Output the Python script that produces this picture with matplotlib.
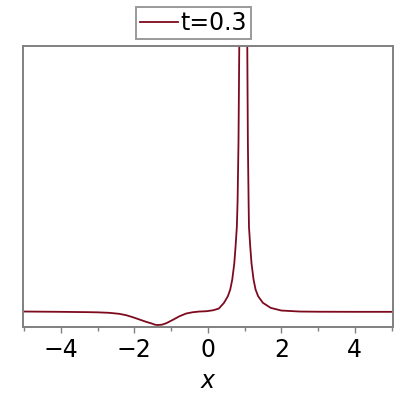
import matplotlib
matplotlib.use('Agg')
import matplotlib.pyplot as plt
from matplotlib.ticker import MultipleLocator

# --- DATA (y in arbitrary units above the baseline) ---

x_vals = [-5.0, -4.0, -3.3, -3.0, -2.68, -2.41, -2.22, -2.04, -1.86, -1.68,
          -1.5, -1.44, -1.37, -1.25, -1.13, -0.95, -0.77, -0.59, -0.41, -0.23,
          -0.04, 0.15, 0.3, 0.44, 0.545, 0.61, 0.665, 0.72, 0.755, 0.79,
          0.81, 0.835, 0.856, 0.87, 0.965, 1.06, 1.074, 1.09, 1.11, 1.12,
          1.155, 1.19, 1.245, 1.30, 1.37, 1.50, 1.71, 2.0, 2.5, 3.0,
          4.0, 5.0]
y_vals = [0.0, -0.3, -0.6, -0.8, -1.3, -2.3, -3.7, -5.7, -8.0, -10.3,
          -12.3, -13.2, -13.5, -13.2, -11.7, -8.3, -4.7, -2.0, -0.7, 0.0,
          0.3, 1.3, 3.0, 8.7, 15.3, 22.0, 32.0, 48.0, 65.0, 85.0,
          110.0, 170.0, 266.0, 330.0, 900.0, 330.0, 266.0, 170.0, 110.0, 85.0,
          65.0, 48.0, 32.0, 22.0, 15.3, 8.7, 3.7, 1.0, 0.0, -0.2,
          -0.3, -0.3]
series_label = 't=0.3'

# --- PLOT ---

fig = plt.figure(figsize=(4, 4), dpi=100)
ax = fig.add_axes([0.0575, 0.1825, 0.925, 0.7035])

line_col = '#7d0a1e'
ax.plot(x_vals, y_vals, color=line_col, lw=1.3, label=series_label)

ax.set_xlim(-5.03, 5.04)
ax.set_ylim(-15.5, 266.5)

for s in ax.spines.values():
    s.set_color('#808080')
    s.set_linewidth(1.4)

ax.xaxis.set_major_locator(MultipleLocator(2))
ax.xaxis.set_minor_locator(MultipleLocator(1))
ax.set_yticks([])
ax.tick_params(axis='x', which='major', direction='out', length=4, width=1,
               color='#808080', labelsize=17, pad=4)
ax.tick_params(axis='x', which='minor', direction='out', length=3, width=1,
               color='#808080')
ax.set_xticks([-4, -2, 0, 2, 4])
ax.set_xticklabels(['\u22124', '\u22122', '0', '2', '4'])
ax.set_xlabel('x', fontsize=17, fontstyle='italic', labelpad=5)

leg = ax.legend(loc='lower center', bbox_to_anchor=(0.461, 1.0), fontsize=17,
                frameon=True, fancybox=False, borderpad=0.15, handlelength=1.6,
                handletextpad=0.12, borderaxespad=0.3)
leg.get_frame().set_edgecolor('#808080')
leg.get_frame().set_linewidth(1.4)

fig.savefig('out.png', dpi=100)
plt.close(fig)
